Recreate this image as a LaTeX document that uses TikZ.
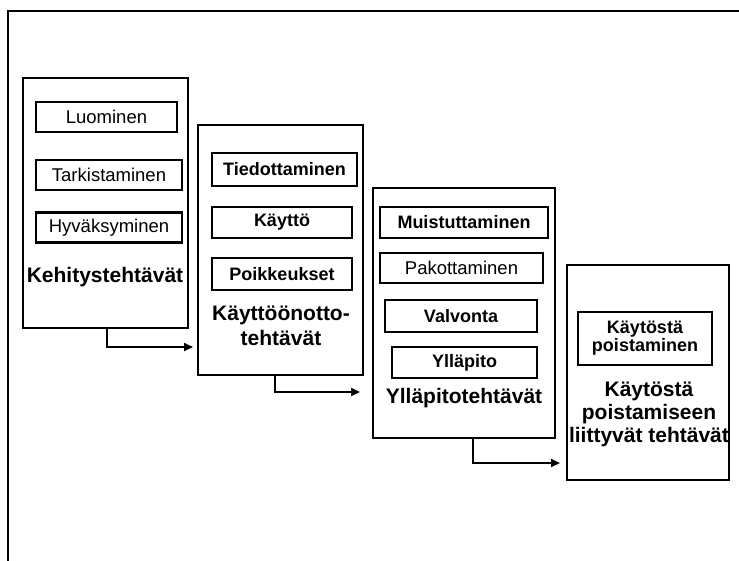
\documentclass[tikz,border=0pt]{standalone}
\usepackage{fontspec}
\setmainfont{Liberation Sans}
\usetikzlibrary{arrows.meta}

\begin{document}
\begin{tikzpicture}[x=1pt, y=-1pt,
	phase/.style={draw, line width=2.2pt, inner sep=0pt},
	task/.style={draw, line width=2.2pt, inner sep=0pt, minimum height=30pt, font=\fontsize{18.5}{21}\selectfont},
	btask/.style={task, font=\fontsize{18}{21}\selectfont\bfseries},
	title/.style={align=center, inner sep=0pt, font=\fontsize{21}{25}\selectfont\bfseries},
	arr/.style={line width=2.2pt, -{Triangle[length=9pt, width=8pt]}}]

	\useasboundingbox (0,0) rectangle (739,561);
	\draw [line width=2.5pt] (739,11) -- (8,11) -- (8,561);

	% phase boxes
	\node [phase, minimum width=165pt, minimum height=250pt] (k1) at (105.5,203) {};
	\node [phase, minimum width=165pt, minimum height=250pt] (k2) at (280.5,250) {};
	\node [phase, minimum width=182pt, minimum height=250pt] (k3) at (464,313) {};
	\node [phase, minimum width=162pt, minimum height=215pt] (k4) at (648,372.5) {};

	\node [task, minimum width=141pt] (luo) at (106.5,117) {Luominen};
	\node [task, minimum width=146pt] (tark) at (109,175) {Tarkistaminen};
	\node [task, minimum width=146pt] (hyv) at (109,227.5) {Hyväksyminen};
	\node [title] (kehi) at (105,277) {Kehitystehtävät};

	\node [btask, minimum width=145pt, minimum height=33pt] (tied) at (284.5,169.5) {Tiedottaminen};
	\node [btask, minimum width=140pt, minimum height=31pt] (kay) at (282,222.5) {Käyttö};
	\node [btask, minimum width=140pt, minimum height=32pt] (poik) at (282,274) {Poikkeukset};
	\node [title] (kayt) at (281,326) {Käyttöönotto-\\tehtävät};

	\node [btask, minimum width=168pt, minimum height=31pt] (muis) at (464,222.5) {Muistuttaminen};
	\node [task, minimum width=163pt] (pako) at (461.5,268) {Pakottaminen};
	\node [btask, minimum width=152pt, minimum height=32pt] (valv) at (461,316) {Valvonta};
	\node [btask, minimum width=145pt, minimum height=31pt] (yllp) at (464.5,362.5) {Ylläpito};
	\node [title] (yllt) at (464,398) {Ylläpitotehtävät};

	\node [btask, align=center, minimum width=134pt, minimum height=53pt] (pois) at (645,338.5) {Käytöstä\\[-3pt]poistaminen};
	\node [title] (poit) at (649,414) {Käytöstä\\[-2pt]poistamiseen\\[-2pt]liittyvät tehtävät};

	% arrows between phases
	\coordinate (a1) at (193,347);
	\coordinate (a2) at (360,392);
	\coordinate (a3) at (560,463);

	\draw [arr] ([xshift=1.5pt]k1.south) |- (a1);
	\draw [arr] ([xshift=-5.5pt]k2.south) |- (a2);
	\draw [arr] ([xshift=9pt]k3.south) |- (a3);

\end{tikzpicture}
\end{document}
